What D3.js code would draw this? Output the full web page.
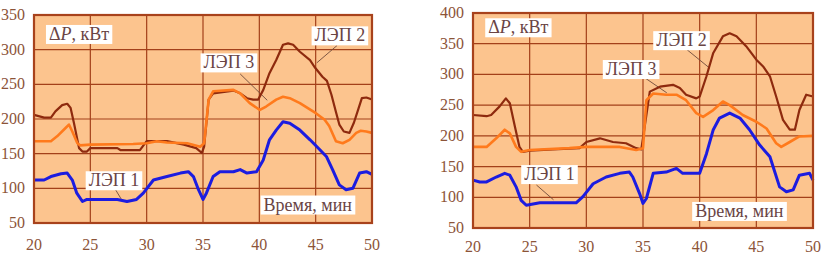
<!DOCTYPE html>
<html>
<head>
<meta charset="utf-8">
<script src="https://cdn.jsdelivr.net/npm/d3@7"></script>
<style>
  body { margin: 0; background: #fff; }
  svg { display: block; }
</style>
</head>
<body>
<svg id="chart"></svg>
<script>
// shared x ticks
const xTicks = [20, 25, 30, 35, 40, 45, 50]

// ---- left chart data (time, min / losses, kW)
const leftYTicks = [50, 100, 150, 200, 250, 300, 350]

const l1LeftT = [20, 20.9, 21.5, 22.4, 22.95, 23.4, 23.8, 24.3, 24.7, 25.9, 27.4, 28.25, 29.1, 29.7, 30.6, 31.8, 33.0, 33.7, 34.15, 34.6, 35.0, 35.3, 35.9, 36.5, 37.7, 38.3, 38.9, 39.75, 40.35, 40.9, 41.5, 42.1, 42.7, 43.6, 44.5, 45.35, 45.95, 46.5, 47.1, 47.7, 48.3, 48.9, 49.5, 50]
const l1LeftV = [112, 112, 117, 121, 122, 112, 93, 81, 84, 84, 84, 81, 84, 93, 112, 117, 122, 124, 117, 98, 84, 93, 117, 124, 124, 127, 122, 124, 141, 170, 184, 196, 194, 184, 170, 156, 146, 127, 105, 98, 100, 122, 124, 120]

const l2LeftT = [20, 20.9, 21.5, 21.9, 22.5, 22.95, 23.25, 23.55, 24.0, 24.3, 24.7, 25.0, 27.4, 27.7, 29.4, 30.0, 31.8, 33.3, 34.4, 34.9, 35.1, 35.5, 35.9, 37.7, 38.3, 38.9, 39.45, 39.9, 40.35, 40.9, 41.5, 42.1, 42.55, 43.0, 43.6, 44.5, 44.9, 45.6, 46.0, 46.4, 46.8, 47.1, 47.5, 48.0, 48.4, 48.8, 49.1, 49.5, 50]
const l2LeftV = [206, 202, 202, 211, 220, 222, 216, 194, 158, 153, 153, 158, 158, 155, 155, 168, 168, 163, 158, 151, 160, 228, 237, 241, 237, 230, 228, 228, 242, 266, 285, 307, 309, 307, 297, 285, 275, 261, 255, 235, 210, 192, 182, 180, 195, 215, 230, 231, 228]

const l3LeftT = [20, 21.5, 22.05, 22.8, 23.1, 23.4, 23.85, 24.1, 25.0, 28.8, 30.0, 30.9, 31.8, 33.6, 34.75, 35.1, 35.5, 35.9, 37.7, 38.3, 39.15, 40.05, 40.6, 41.5, 42.1, 42.7, 43.6, 45.05, 45.8, 46.2, 46.8, 47.4, 48.0, 48.6, 49.0, 49.5, 50]
const l3LeftV = [168, 168, 175, 187, 192, 182, 165, 162, 163, 164, 165, 168, 166, 165, 160, 165, 228, 240, 242, 237, 223, 213, 218, 228, 232, 230, 223, 208, 199, 190, 168, 165, 170, 180, 183, 182, 180]

// ---- right chart data
const rightYTicks = [50, 100, 150, 200, 250, 300, 350, 400]

const l1RightT = [20, 20.6, 21.2, 22.05, 22.8, 23.25, 23.8, 24.25, 24.7, 25.9, 27.05, 29.1, 29.7, 30.6, 31.75, 32.95, 33.8, 34.1, 34.7, 35.0, 35.3, 35.9, 37.05, 37.95, 38.5, 40.0, 40.6, 41.2, 41.75, 42.65, 43.55, 44.4, 45.3, 46.2, 47.05, 47.65, 48.25, 48.8, 49.7, 50]
const l1RightV = [128, 125, 125, 133, 139, 136, 117, 95, 87, 91, 91, 91, 101, 122, 133, 139, 141, 133, 106, 90, 98, 139, 141, 147, 139, 139, 171, 210, 229, 237, 229, 210, 185, 166, 117, 109, 112, 136, 139, 128]

const l2RightT = [20, 21.2, 21.6, 22.35, 22.9, 23.25, 23.7, 24.1, 24.4, 25.0, 27.05, 29.4, 30.0, 31.2, 32.35, 33.5, 34.4, 34.85, 35.15, 35.6, 36.5, 37.65, 38.25, 38.8, 39.7, 40.0, 40.6, 41.2, 42.05, 42.65, 43.25, 44.1, 45.0, 45.6, 46.2, 46.75, 47.35, 47.95, 48.4, 48.8, 49.4, 50]
const l2RightV = [234, 232, 234, 248, 261, 253, 215, 182, 174, 176, 178, 180, 190, 196, 190, 188, 180, 178, 215, 272, 280, 283, 278, 267, 261, 264, 297, 335, 362, 367, 362, 346, 324, 313, 297, 264, 226, 210, 210, 242, 267, 264]

const l3RightT = [20, 21.2, 22.05, 22.8, 23.25, 23.8, 24.25, 25.0, 28.5, 30.0, 32.95, 34.4, 35.0, 35.3, 35.9, 37.05, 37.95, 38.8, 39.7, 40.3, 41.2, 42.05, 42.65, 43.8, 45.0, 45.9, 46.75, 47.2, 47.95, 48.8, 50]
const l3RightV = [182, 182, 196, 210, 204, 182, 174, 177, 180, 182, 182, 177, 180, 258, 269, 267, 267, 258, 237, 231, 242, 256, 250, 234, 223, 212, 188, 182, 190, 199, 200]

const colors = { l1: '#1c1ce0', l2: '#8e2a0e', l3: '#ff7a1c' }
const serif = '"Liberation Serif", "Times New Roman", Times, "DejaVu Serif", serif'

const svg = d3.select('#chart')
  .attr('width', 826)
  .attr('height', 258)
  .attr('font-family', serif)

/**
 * draw one panel: frame, grid, ticks, three lines and the text boxes
 */
function drawPanel(cfg) {
  const x = d3.scaleLinear().domain([20, 50]).range([cfg.left, cfg.right])
  const y = d3.scaleLinear().domain(cfg.yDomain).range([cfg.bottom, cfg.top])
  const g = svg.append('g')

  // plot background
  g.append('rect')
    .attr('x', cfg.left).attr('y', cfg.top)
    .attr('width', cfg.right - cfg.left)
    .attr('height', cfg.bottom - cfg.top)
    .attr('fill', '#fcc48e')

  // grid lines
  g.append('g').selectAll('line.h')
    .data(cfg.yTicks)
    .join('line')
    .attr('x1', cfg.left).attr('x2', cfg.right)
    .attr('y1', d => y(d)).attr('y2', d => y(d))
    .attr('stroke', '#a3401a').attr('stroke-width', 1.2)
  g.append('g').selectAll('line.v')
    .data(xTicks)
    .join('line')
    .attr('y1', cfg.top).attr('y2', cfg.bottom)
    .attr('x1', d => x(d)).attr('x2', d => x(d))
    .attr('stroke', '#a3401a').attr('stroke-width', 1.2)

  // tick labels
  g.append('g').selectAll('text')
    .data(cfg.yTicks)
    .join('text')
    .attr('x', cfg.left - 9)
    .attr('y', d => y(d) + 5)
    .attr('text-anchor', 'end')
    .attr('font-size', 16)
    .attr('font-family', serif)
    .attr('fill', '#8c5438')
    .text(d => d)
  g.append('g').selectAll('text')
    .data(xTicks)
    .join('text')
    .attr('x', d => x(d))
    .attr('y', cfg.xLabelY)
    .attr('text-anchor', 'middle')
    .attr('font-size', 16)
    .attr('font-family', serif)
    .attr('fill', '#8c5438')
    .text(d => d)

  // leader lines go under the curves
  cfg.notes.filter(n => n.lead).forEach(n => {
    g.append('line')
      .attr('x1', x(n.lead[0])).attr('y1', y(n.lead[1]))
      .attr('x2', x(n.lead[2])).attr('y2', y(n.lead[3]))
      .attr('stroke', '#6e4a3a').attr('stroke-width', 0.9)
  })

  const line = d3.line()
    .x(d => x(d[0]))
    .y(d => y(d[1]))

  cfg.series.forEach(s => {
    g.append('path')
      .datum(d3.zip(s.t, s.v))
      .attr('d', line)
      .attr('fill', 'none')
      .attr('stroke', s.color)
      .attr('stroke-width', s.width)
      .attr('stroke-linejoin', 'round')
  })

  // white text boxes
  cfg.notes.forEach(n => {
    const t = g.append('text')
      .attr('x', x(n.at[0]))
      .attr('y', y(n.at[1]))
      .attr('text-anchor', 'middle')
      .attr('font-size', 18)
      .attr('font-family', serif)
      .attr('fill', '#6a4444')
    if (n.delta) {
      t.append('tspan').text('Δ')
      t.append('tspan').attr('font-style', 'italic').text('P')
      t.append('tspan').text(', кВт')
    } else {
      t.text(n.label)
    }
    const b = t.node().getBBox()
    g.insert('rect', () => t.node())
      .attr('x', b.x - 3).attr('y', b.y + 1)
      .attr('width', b.width + 6).attr('height', b.height - 1)
      .attr('fill', '#fff')
  })

  // frame
  g.append('rect')
    .attr('x', cfg.left).attr('y', cfg.top)
    .attr('width', cfg.right - cfg.left)
    .attr('height', cfg.bottom - cfg.top)
    .attr('fill', 'none')
    .attr('stroke', '#a8421c')
    .attr('stroke-width', 2.2)
}

drawPanel({
  left: 34, right: 372, top: 15, bottom: 223, xLabelY: 250,
  yDomain: [50, 350], yTicks: leftYTicks,
  series: [
    { t: l2LeftT, v: l2LeftV, color: colors.l2, width: 2.2 },
    { t: l3LeftT, v: l3LeftV, color: colors.l3, width: 2.6 },
    { t: l1LeftT, v: l1LeftV, color: colors.l1, width: 3 }
  ],
  notes: [
    { delta: true, at: [24.0, 314] },
    { label: 'ЛЭП 2', at: [47.15, 312], lead: [46.9, 306, 45.1, 281] },
    { label: 'ЛЭП 3', at: [37.3, 273], lead: [38.3, 265, 40.7, 227] },
    { label: 'ЛЭП 1', at: [27.1, 103], lead: [27.2, 99, 27.8, 83] },
    { label: 'Время, мин', at: [44.3, 68] }
  ]
})

drawPanel({
  left: 473, right: 813, top: 13, bottom: 228, xLabelY: 252,
  yDomain: [50, 400], yTicks: rightYTicks,
  series: [
    { t: l2RightT, v: l2RightV, color: colors.l2, width: 2.2 },
    { t: l3RightT, v: l3RightV, color: colors.l3, width: 2.6 },
    { t: l1RightT, v: l1RightV, color: colors.l1, width: 3 }
  ],
  notes: [
    { delta: true, at: [24.0, 367] },
    { label: 'ЛЭП 2', at: [38.4, 346], lead: [38.9, 340, 40.9, 310] },
    { label: 'ЛЭП 3', at: [33.95, 299], lead: [35.2, 294, 37.1, 270] },
    { label: 'ЛЭП 1', at: [26.75, 128], lead: [25.6, 120, 27.1, 96] },
    { label: 'Время, мин', at: [43.5, 68] }
  ]
})
</script>
</body>
</html>
